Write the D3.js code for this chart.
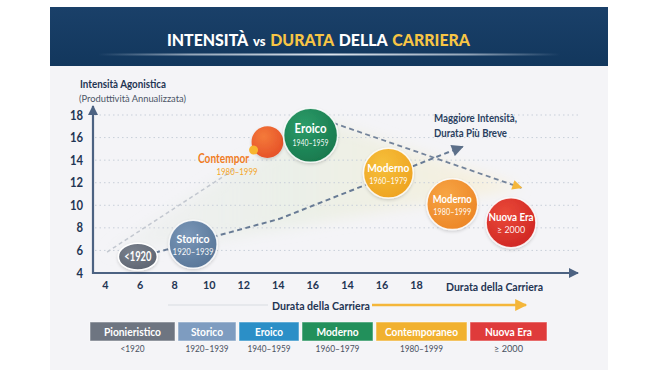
<!DOCTYPE html>
<html><head><meta charset="utf-8">
<script src="https://cdn.jsdelivr.net/npm/d3@7/dist/d3.min.js"></script>
<style>html,body{margin:0;padding:0;background:#fff;} svg{display:block;}</style>
</head><body>
<svg id="c" width="660" height="370"></svg>
<script>
// ---------- data ----------
const titleParts = ["INTENSITÀ", "vs", "DURATA", "DELLA", "CARRIERA"];
const titleHighlight = [false, false, true, false, true];
const yAxisTitle = "Intensità Agonistica";
const yAxisSubtitle = "(Produttività Annualizzata)";
const xAxisTitle = "Durata della Carriera";
const yTicks = [4, 6, 8, 10, 12, 14, 16, 18];
const xTickValues = [4, 6, 8, 10, 12, 14, 16, 18, 20, 22];
const xTickLabels = ["4", "6", "8", "10", "12", "14", "16", "14", "16", "18"];

const bubbleNames = ["<1920", "Storico", "", "Eroico", "Moderno", "Moderno", "Nuova Era"];
const bubbleYears = ["", "1920–1939", "", "1940–1959", "1960–1979", "1980–1999", "≥ 2000"];
const bubbleDurata = [5.9, 9.1, 13.4, 15.9, 20.4, 24.1, 27.5];
const bubbleIntensita = [5.45, 6.55, 15.6, 16.2, 12.85, 10.1, 8.45];
const bubblePeso = [42, 64, 28, 81, 69, 72, 69];

const contemporLabel = ["Contempor", "1980–1999"];
const contemporDot = [12.6, 14.9];

const trend1 = [[4.12, 5.86], [11.6, 13.3]];
const trend2 = [[6.9, 5.8], [10.5, 7.3], [14.1, 8.8], [24.7, 15.2]];
const trend3 = [[17.2, 17.3], [28.1, 11.55]];
const trendNote = ["Maggiore Intensità,", "Durata Più Breve"];
const fanArea = [[4.12, 5.86], [11.8, 13.6], [17.2, 17.3], [28.1, 11.55], [22.2, 10.0], [10.5, 6.9]];

const legendNames = ["Pionieristico", "Storico", "Eroico", "Moderno", "Contemporaneo", "Nuova Era"];
const legendYears = ["<1920", "1920–1939", "1940–1959", "1960–1979", "1980–1999", "≥ 2000"];

// ---------- style ----------
const FONT = "Lato,'Open Sans',Roboto,sans-serif";
const NAVY = "#1f3553";
const bubbleFill = [["#7a818d", "#5d6471"], ["#7a97b8", "#577597"], ["#f47a3a", "#e54f27"],
  ["#2c9c69", "#17774c"], ["#f6c03b", "#eea220"], ["#f7a544", "#ec8526"], ["#ea4a38", "#cf2523"]];
const bubbleNameW = [27, 33, 0, 32, 42, 39, 45];
const bubbleYearW = [0, 41, 0, 36, 38, 38, 28];
const legendFill = ["#6e7581", "#7e9cc0", "#2b8fc7", "#22905b", "#f1b12f", "#df3b3b"];
const legendW = [85, 58, 60, 71, 91, 77];
const legendNameW = [57, 32, 28, 42, 73, 47];
const legendYearW = [24, 43, 43, 44, 43, 29];

function fit(sel, w) { return sel.attr("textLength", w).attr("lengthAdjust", "spacingAndGlyphs"); }
function squeeze(sel, f) {
  sel.each(function () { const n = this; const L = n.getComputedTextLength(); d3.select(n).attr("textLength", L * f).attr("lengthAdjust", "spacingAndGlyphs"); });
}

const svg = d3.select("#c").style("font-family", FONT);
const defs = svg.append("defs");

const x = d3.scaleLinear().domain([4, 22]).range([105, 416]);
const y = d3.scaleLinear().domain([4, 18]).range([273, 115]);
const r = d3.scaleSqrt().domain([0, 100]).range([0, 30]);
const axisX = 93;

// gradients
bubbleFill.forEach((c, i) => {
  const g = defs.append("radialGradient").attr("id", "bg" + i).attr("cx", "38%").attr("cy", "32%").attr("r", "75%");
  g.append("stop").attr("offset", "0%").attr("stop-color", c[0]);
  g.append("stop").attr("offset", "100%").attr("stop-color", c[1]);
});
const bannerG = defs.append("linearGradient").attr("id", "banner").attr("x1", 0).attr("y1", 0).attr("x2", 0).attr("y2", 1);
bannerG.append("stop").attr("offset", "0%").attr("stop-color", "#1a4069");
bannerG.append("stop").attr("offset", "100%").attr("stop-color", "#12375d");
const ulG = defs.append("linearGradient").attr("id", "ul");
[["0%", 0], ["20%", 0.6], ["50%", 0.95], ["80%", 0.6], ["100%", 0]].forEach(s =>
  ulG.append("stop").attr("offset", s[0]).attr("stop-color", "#e8eef5").attr("stop-opacity", s[1]));
const fanG = defs.append("linearGradient").attr("id", "fan");
fanG.append("stop").attr("offset", "0%").attr("stop-color", "#e6e9e8").attr("stop-opacity", 0.35);
fanG.append("stop").attr("offset", "45%").attr("stop-color", "#e4ecdc").attr("stop-opacity", 0.55);
fanG.append("stop").attr("offset", "100%").attr("stop-color", "#fbeecb").attr("stop-opacity", 0.6);
const blur = defs.append("filter").attr("id", "blur").attr("x", "-20%").attr("y", "-20%").attr("width", "140%").attr("height", "140%");
blur.append("feGaussianBlur").attr("stdDeviation", 7);
const sh = defs.append("filter").attr("id", "sh").attr("x", "-30%").attr("y", "-30%").attr("width", "160%").attr("height", "160%");
sh.append("feDropShadow").attr("dx", 0).attr("dy", 1.5).attr("stdDeviation", 1.5).attr("flood-color", "#000").attr("flood-opacity", 0.16);

function arrowMarker(id, color, w, h) {
  defs.append("marker").attr("id", id).attr("viewBox", "0 0 10 10").attr("refX", 9).attr("refY", 5)
    .attr("markerUnits", "userSpaceOnUse").attr("markerWidth", w).attr("markerHeight", h).attr("orient", "auto")
    .append("path").attr("d", "M0,0 L10,5 L0,10 Z").attr("fill", color);
}
arrowMarker("aAxis", "#4c6282", 11, 10);
arrowMarker("aDark", "#5c6f89", 13, 12);
arrowMarker("aYel", "#f4b63a", 12, 10);
arrowMarker("aYel2", "#f4b63a", 14, 12);

// background panel & banner
svg.append("rect").attr("x", 50).attr("y", 66).attr("width", 558).attr("height", 304).attr("fill", "#f4f4f7");
svg.append("rect").attr("x", 50).attr("y", 7).attr("width", 558).attr("height", 59).attr("fill", "url(#banner)");

// title: separate words laid out left to right, condensed to the reference width
const tg = svg.append("g");
const tNodes = titleParts.map((p, i) => tg.append("text").text(p).attr("y", 45.5)
  .attr("font-size", p === "vs" ? 14 : 17).attr("font-weight", 900)
  .attr("fill", titleHighlight[i] ? "#f7c545" : "#ffffff"));
const tW = tNodes.map(n => n.node().getComputedTextLength());
const gap = 5;
const tf = 303 / (d3.sum(tW) + gap * (tW.length - 1));
let cx = 167;
tNodes.forEach((n, i) => { fit(n.attr("x", cx), tW[i] * tf); cx += (tW[i] + gap) * tf; });
svg.append("rect").attr("x", 98).attr("y", 53.5).attr("width", 462).attr("height", 2).attr("fill", "url(#ul)");

// fan shading
svg.append("path").datum(fanArea)
  .attr("d", d3.line().x(d => x(d[0])).y(d => y(d[1])).curve(d3.curveLinearClosed))
  .attr("fill", "url(#fan)").attr("filter", "url(#blur)");

// gridlines
svg.append("g").selectAll("line").data(yTicks.slice(1)).join("line")
  .attr("x1", axisX + 2).attr("x2", 578).attr("y1", d => y(d)).attr("y2", d => y(d))
  .attr("stroke", "#c8cfd9").attr("stroke-width", 1).attr("stroke-dasharray", "1.5,3");

// axes
const yAx = svg.append("g").attr("transform", `translate(${axisX},0)`)
  .call(d3.axisLeft(y).tickValues(yTicks).tickSize(0).tickPadding(10));
yAx.select(".domain").remove();
yAx.selectAll("text").attr("font-size", 12.5).attr("font-weight", 700).attr("fill", NAVY).attr("font-family", FONT);
squeeze(yAx.selectAll("text"), 0.9);
const xAx = svg.append("g").attr("transform", `translate(0,${y(4)})`)
  .call(d3.axisBottom(x).tickValues(xTickValues).tickSize(0).tickPadding(7).tickFormat((d, i) => xTickLabels[i]));
xAx.select(".domain").remove();
xAx.selectAll("text").attr("font-size", 12).attr("font-weight", 700).attr("fill", NAVY).attr("font-family", FONT);
squeeze(xAx.selectAll("text"), 0.9);

svg.append("line").attr("x1", axisX).attr("x2", axisX).attr("y1", y(4) + 1).attr("y2", 106)
  .attr("stroke", "#4c6282").attr("stroke-width", 2.2).attr("marker-end", "url(#aAxis)");
svg.append("line").attr("x1", axisX - 1).attr("x2", 578).attr("y1", y(4)).attr("y2", y(4))
  .attr("stroke", "#4c6282").attr("stroke-width", 2.2).attr("marker-end", "url(#aAxis)");

fit(svg.append("text").attr("x", 80).attr("y", 87.5).text(yAxisTitle)
  .attr("font-size", 11.5).attr("font-weight", 700).attr("fill", NAVY), 86);
fit(svg.append("text").attr("x", 79).attr("y", 101.5).text(yAxisSubtitle)
  .attr("font-size", 10).attr("fill", "#4b5566"), 107);
fit(svg.append("text").attr("x", 446).attr("y", 291).text(xAxisTitle)
  .attr("font-size", 11.5).attr("font-weight", 700).attr("fill", NAVY), 97);

// trend lines
const ln = d3.line().x(d => x(d[0])).y(d => y(d[1]));
svg.append("path").datum(trend1).attr("d", ln).attr("fill", "none")
  .attr("stroke", "#c3c8d0").attr("stroke-width", 1.5).attr("stroke-dasharray", "4,3");
svg.append("path").datum(trend2).attr("d", ln).attr("fill", "none")
  .attr("stroke", "#687b95").attr("stroke-width", 2).attr("stroke-dasharray", "5,3.5").attr("marker-end", "url(#aDark)");
svg.append("path").datum(trend3).attr("d", ln).attr("fill", "none")
  .attr("stroke", "#74849b").attr("stroke-width", 1.8).attr("stroke-dasharray", "5,3.5").attr("marker-end", "url(#aYel)");

const noteW = [83, 73];
trendNote.forEach((t, i) => fit(svg.append("text").attr("x", 434).attr("y", 122 + i * 14.5).text(t)
  .attr("font-size", 12).attr("font-weight", 700).attr("fill", "#2a3f5f"), noteW[i]));

// bubbles
const bubbles = bubbleNames.map((n, i) => ({ n, yr: bubbleYears[i], d: bubbleDurata[i], v: bubbleIntensita[i], p: bubblePeso[i], i }));
const bg = svg.append("g").selectAll("g").data(bubbles).join("g")
  .attr("transform", b => `translate(${x(b.d)},${y(b.v)})`);
bg.each(function (b) {
  const g = d3.select(this);
  const rr = r(b.p);
  if (b.i === 0) {
    g.append("ellipse").attr("rx", rr).attr("ry", rr * 0.69).attr("fill", "url(#bg0)")
      .attr("stroke", "#fff").attr("stroke-width", 1.5).attr("filter", "url(#sh)");
  } else {
    g.append("circle").attr("r", rr).attr("fill", `url(#bg${b.i})`)
      .attr("stroke", "#fff").attr("stroke-width", b.i === 2 ? 0 : 1.5).attr("stroke-opacity", 0.85).attr("filter", "url(#sh)");
  }
  if (b.n && !b.yr) {
    fit(g.append("text").attr("text-anchor", "middle").attr("y", 4.5).text(b.n)
      .attr("font-size", 12.5).attr("font-weight", 700).attr("fill", "#fff"), bubbleNameW[b.i]);
  } else if (b.n) {
    fit(g.append("text").attr("text-anchor", "middle").attr("y", b.i === 3 ? -2.5 : -1.5).text(b.n)
      .attr("font-size", b.i === 3 ? 13 : 12).attr("font-weight", 700).attr("fill", "#fff"), bubbleNameW[b.i]);
    fit(g.append("text").attr("text-anchor", "middle").attr("y", 10.5).text(b.yr)
      .attr("font-size", 9.5).attr("fill", "#fff").attr("fill-opacity", 0.95), bubbleYearW[b.i]);
  }
});

svg.append("circle").attr("cx", x(contemporDot[0])).attr("cy", y(contemporDot[1])).attr("r", 4.5).attr("fill", "#f7b52e");
fit(svg.append("text").attr("x", 249).attr("y", 162.5).attr("text-anchor", "end").text(contemporLabel[0])
  .attr("font-size", 12.5).attr("font-weight", 700).attr("fill", "#f07c1f"), 51);
fit(svg.append("text").attr("x", 237).attr("y", 174.5).attr("text-anchor", "middle").text(contemporLabel[1])
  .attr("font-size", 10).attr("fill", "#f4a62a"), 41);

// lower caption
svg.append("line").attr("x1", 168).attr("x2", 268).attr("y1", 305).attr("y2", 305).attr("stroke", "#e6e8ec").attr("stroke-width", 2);
fit(svg.append("text").attr("x", 321).attr("y", 310).attr("text-anchor", "middle").text(xAxisTitle)
  .attr("font-size", 11.5).attr("font-weight", 700).attr("fill", NAVY), 98);
svg.append("line").attr("x1", 372).attr("x2", 526).attr("y1", 305).attr("y2", 305)
  .attr("stroke", "#f4b63a").attr("stroke-width", 2.5).attr("marker-end", "url(#aYel2)");

// legend
let lx = 90;
const legendData = legendNames.map((n, i) => { const o = { n, yr: legendYears[i], x: lx, w: legendW[i], c: legendFill[i], nw: legendNameW[i], yw: legendYearW[i] }; lx += legendW[i] + 3; return o; });
const lg = svg.append("g").selectAll("g").data(legendData).join("g");
lg.append("rect").attr("x", d => d.x).attr("y", 322).attr("width", d => d.w).attr("height", 19)
  .attr("fill", d => d.c).attr("stroke", "#ffffff").attr("stroke-opacity", 0.5);
lg.append("text").attr("x", d => d.x + d.w / 2).attr("y", 335.5).attr("text-anchor", "middle").text(d => d.n)
  .attr("font-size", 11.5).attr("font-weight", 700).attr("fill", "#fff")
  .attr("textLength", d => d.nw).attr("lengthAdjust", "spacingAndGlyphs");
lg.append("text").attr("x", d => d.x + d.w / 2).attr("y", 352).attr("text-anchor", "middle").text(d => d.yr)
  .attr("font-size", 10).attr("fill", "#4a5261")
  .attr("textLength", d => d.yw).attr("lengthAdjust", "spacingAndGlyphs");
</script>
</body></html>
